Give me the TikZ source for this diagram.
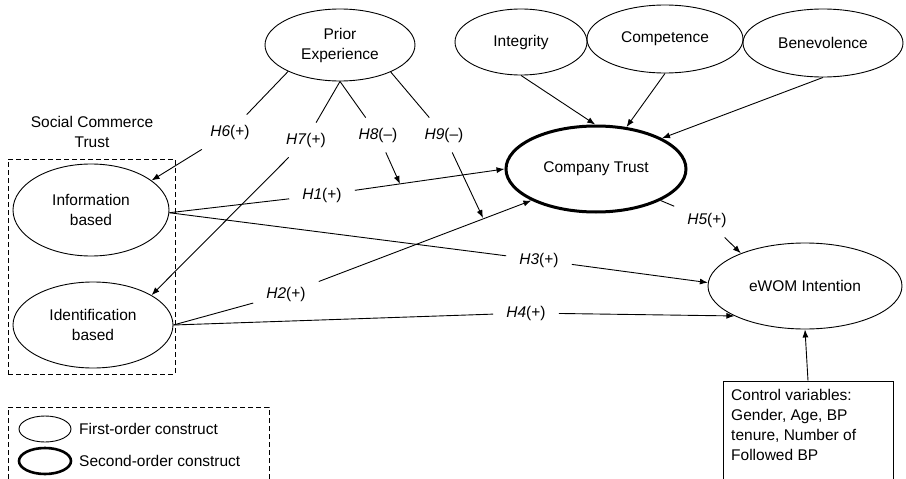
\documentclass[tikz,border=0pt]{standalone}
\usepackage{fontspec}
\setmainfont{Liberation Sans}
\usetikzlibrary{shapes.geometric,arrows.meta}
\begin{document}
\begin{tikzpicture}[x=1pt,y=-1pt]
\tikzset{
  base/.style={font=\fontsize{15.5}{20}\selectfont, text=black},
  construct/.style={base, ellipse, draw, line width=0.9pt, inner sep=0pt, align=center},
  second/.style={construct, line width=3pt},
  hyp/.style={base, inner xsep=13pt, inner ysep=10pt},
  link/.style={line width=0.9pt},
  arr/.style={link, -{Latex[length=8pt,width=6pt]}},
  groupbox/.style={draw, line width=0.9pt, dash pattern=on 5pt off 3pt, inner sep=0pt},
  plainbox/.style={draw, line width=0.9pt, inner sep=0pt}
}
\useasboundingbox (0,0) rectangle (906,479);

% constructs
\node[construct, minimum width=150, minimum height=72] (prior) at (340,45) {Prior\\Experience};
\node[construct, minimum width=132, minimum height=66] (integ) at (521,42) {Integrity};
\node[construct, minimum width=156, minimum height=68] (comp) at (665,39) {Competence};
\node[construct, minimum width=160, minimum height=68] (bene) at (823,43) {Benevolence};
\node[second, minimum width=180, minimum height=86] (ct) at (596,169) {Company Trust};
\node[construct, minimum width=194, minimum height=86] (ewom) at (805,286) {eWOM Intention};
\node[construct, minimum width=156, minimum height=92] (info) at (91,210) {Information\\based};
\node[construct, minimum width=160, minimum height=86] (ident) at (93,325) {Identification\\based};

% social commerce trust group
\node[base, align=center] (sct) at (92,132) {Social Commerce\\Trust};
\node[groupbox, minimum width=167, minimum height=215] (scbox) at (91.5,266.5) {};

% legend
\node[groupbox, minimum width=261, minimum height=83] (legbox) at (138.5,448.5) {};
\node[construct, minimum width=52, minimum height=26] (leg1) at (45,429) {};
\node[second, line width=2.6pt, minimum width=52, minimum height=26] (leg2) at (45,461) {};
\node[base, anchor=west, inner sep=0pt] (leg1t) at (79,429) {First-order construct};
\node[base, anchor=west, inner sep=0pt] (leg2t) at (79,461) {Second-order construct};

% control variables
\node[plainbox, minimum width=170, minimum height=114] (ctrl) at (808,438) {};
\node[base, anchor=north west, inner sep=0pt, align=left] (ctrlt) at (731,388.7)
  {Control variables:\\Gender, Age, BP\\tenure, Number of\\Followed BP};

% hypothesis labels
\node[hyp] (h6) at (230,132) {\textit{H6}(+)};
\node[hyp] (h7) at (306,140) {\textit{H7}(+)};
\node[hyp] (h8) at (378,135) {\textit{H8}(–)};
\node[hyp] (h9) at (444,135) {\textit{H9}(–)};
\node[hyp] (h1) at (322,195) {\textit{H1}(+)};
\node[hyp] (h2) at (286,294) {\textit{H2}(+)};
\node[hyp] (h3) at (539,260) {\textit{H3}(+)};
\node[hyp] (h4) at (526,313) {\textit{H4}(+)};
\node[hyp] (h5) at (707,220) {\textit{H5}(+)};

\coordinate (m8) at (400,184);
\coordinate (m9) at (483,218);

% moderation paths
\draw[link] (prior.207) -- (h6);  \draw[arr] (h6) -- (info.26);
\draw[link] (prior.south) -- (h7); \draw[arr] (h7) -- (ident.27);
\draw[link] (prior.south) -- (h8); \draw[arr] (h8) -- (m8);
\draw[link] (prior.332) -- (h9);  \draw[arr] (h9) -- (m9);

% main paths
\draw[link] (info.358) -- (h1);  \draw[arr] (h1) -- (ct.west);
\draw[link] (info.358) -- (h3);  \draw[arr] (h3) -- (ewom.178);
\draw[link] (ident.east) -- (h2); \draw[arr] (h2) -- (ct.206);
\draw[link] (ident.east) -- (h4); \draw[arr] (h4) -- (ewom.203);
\draw[link] (ct.334) -- (h5);    \draw[arr] (h5) -- (ewom.153);

% first-order to company trust
\draw[arr] (integ.south) -- (ct.91);
\draw[arr] (comp.south) -- (ct.54);
\draw[arr] (bene.south) -- (ct.25);

% control
\draw[arr] (ctrl.north) -- (ewom.south);
\end{tikzpicture}
\end{document}
